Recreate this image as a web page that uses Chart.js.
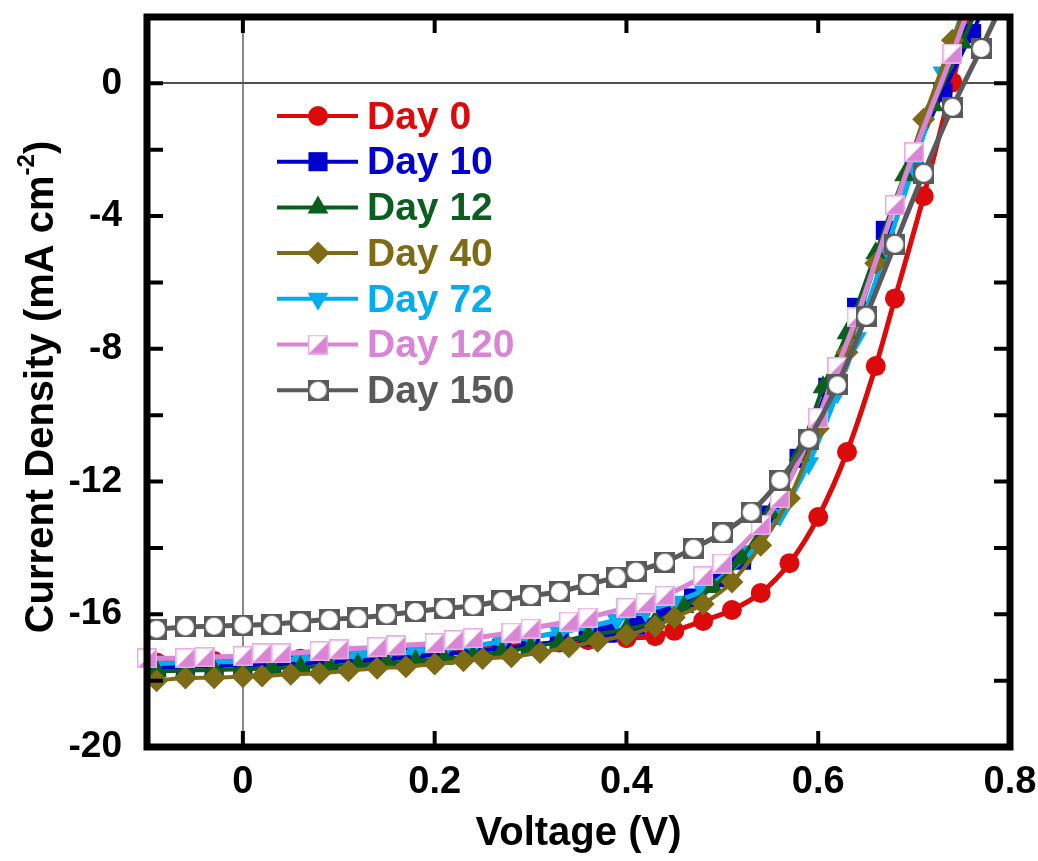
<!DOCTYPE html>
<html>
<head>
<meta charset="utf-8">
<script src="https://cdn.jsdelivr.net/npm/chart.js"></script>
<style>
  html, body { margin: 0; padding: 0; background: #fff; }
  #wrap { width: 1038px; height: 861px; }
</style>
</head>
<body>
<div id="wrap"><canvas id="jv" width="1038" height="861"></canvas></div>
<script>
// J-V curves, voltage (V) vs current density (mA cm-2)
var day0V = [-0.09,-0.06,-0.03,0,0.03,0.06,0.09,0.12,0.15,0.18,0.21,0.24,0.27,0.30,0.33,0.36,0.40,0.43,0.45,0.48,0.51,0.54,0.57,0.60,0.63,0.66,0.68,0.71,0.74,0.77];
var day0J = [-17.45,-17.43,-17.41,-17.40,-17.37,-17.34,-17.30,-17.27,-17.22,-17.17,-17.11,-17.05,-16.98,-16.92,-16.85,-16.78,-16.72,-16.66,-16.50,-16.20,-15.87,-15.36,-14.46,-13.07,-11.11,-8.52,-6.48,-3.40,0.03,3.5];

var day10V = [-0.09,-0.06,-0.03,0,0.03,0.06,0.09,0.12,0.15,0.18,0.21,0.24,0.27,0.30,0.33,0.36,0.38,0.41,0.44,0.47,0.50,0.52,0.55,0.58,0.61,0.64,0.67,0.70,0.73,0.76,0.79];
var day10J = [-17.60,-17.58,-17.56,-17.54,-17.51,-17.48,-17.44,-17.40,-17.35,-17.28,-17.20,-17.12,-17.03,-16.93,-16.82,-16.68,-16.57,-16.33,-15.96,-15.51,-14.90,-14.37,-13.01,-11.30,-9.16,-6.75,-4.43,-2.20,-0.27,1.5,3.3];

var day12V = [-0.09,-0.06,-0.03,0,0.03,0.06,0.09,0.12,0.15,0.18,0.21,0.24,0.27,0.30,0.33,0.36,0.40,0.43,0.46,0.49,0.52,0.55,0.58,0.605,0.63,0.66,0.69,0.72,0.75,0.78];
var day12J = [-17.72,-17.70,-17.68,-17.66,-17.63,-17.60,-17.56,-17.52,-17.47,-17.41,-17.34,-17.26,-17.14,-17.00,-16.84,-16.64,-16.45,-16.22,-15.78,-15.18,-14.31,-12.95,-11.2,-9.16,-7.53,-5.12,-2.77,-0.66,1.23,3.2];

var day40V = [-0.09,-0.06,-0.03,0,0.02,0.05,0.08,0.11,0.14,0.17,0.20,0.23,0.25,0.28,0.31,0.34,0.37,0.40,0.43,0.45,0.48,0.51,0.54,0.57,0.60,0.63,0.66,0.71,0.74,0.77];
var day40J = [-18.00,-17.92,-17.91,-17.88,-17.86,-17.81,-17.78,-17.70,-17.63,-17.58,-17.50,-17.40,-17.33,-17.28,-17.15,-16.98,-16.81,-16.63,-16.36,-16.10,-15.69,-15.03,-13.92,-12.50,-10.4,-8.10,-5.42,-1.08,1.30,3.5];

var day72V = [-0.09,-0.06,-0.03,0,0.03,0.06,0.09,0.12,0.15,0.18,0.21,0.24,0.27,0.30,0.33,0.36,0.39,0.42,0.45,0.48,0.53,0.56,0.59,0.62,0.64,0.67,0.70,0.73,0.76];
var day72J = [-17.48,-17.46,-17.44,-17.42,-17.39,-17.35,-17.31,-17.26,-17.20,-17.13,-17.05,-16.95,-16.83,-16.70,-16.55,-16.38,-16.17,-15.90,-15.62,-15.27,-14.10,-13.01,-11.45,-9.31,-7.68,-5.1,-2.45,0.33,3.0];

var day120V = [-0.10,-0.06,-0.04,0,0.02,0.04,0.08,0.10,0.14,0.16,0.20,0.22,0.24,0.28,0.30,0.34,0.36,0.40,0.42,0.44,0.48,0.50,0.54,0.56,0.60,0.62,0.64,0.68,0.70,0.74,0.78];
var day120J = [-17.33,-17.32,-17.29,-17.26,-17.18,-17.18,-17.11,-17.06,-16.99,-16.94,-16.87,-16.78,-16.72,-16.55,-16.43,-16.22,-16.10,-15.81,-15.66,-15.44,-14.86,-14.47,-13.31,-12.50,-10.08,-8.55,-7.05,-3.67,-2.08,0.90,4.1];

var day150V = [-0.09,-0.06,-0.03,0,0.03,0.06,0.09,0.12,0.15,0.18,0.21,0.24,0.27,0.30,0.33,0.36,0.39,0.41,0.44,0.47,0.50,0.53,0.56,0.59,0.62,0.65,0.68,0.71,0.74,0.77,0.80];
var day150J = [-16.45,-16.38,-16.36,-16.33,-16.30,-16.23,-16.15,-16.11,-16.02,-15.92,-15.82,-15.75,-15.59,-15.44,-15.32,-15.10,-14.88,-14.70,-14.43,-14.01,-13.55,-12.92,-11.96,-10.72,-9.09,-7.02,-4.85,-2.71,-0.72,1.05,2.9];

var seriesNames = ['Day 0', 'Day 10', 'Day 12', 'Day 40', 'Day 72', 'Day 120', 'Day 150'];
var xTickValues = [0, 0.2, 0.4, 0.6, 0.8];
var xTickLabels = ['0', '0.2', '0.4', '0.6', '0.8'];
var yTickValues = [-20, -16, -12, -8, -4, 0];
var yTickLabels = ['-20', '-16', '-12', '-8', '-4', '0'];
var yMarkValues = [-18, -16, -14, -12, -10, -8, -6, -4, -2, 0];
var xMarkValues = [0, 0.2, 0.4, 0.6];

var FONT = '"Liberation Sans", Arial, Helvetica, sans-serif';

function zip(xs, ys) {
    return xs.map(function(x, i) { return { x: x, y: ys[i] }; });
}

// square split on the diagonal: white upper-left, pink lower-right
function halfSquare(size, color) {
    var c = document.createElement('canvas');
    c.width = size; c.height = size;
    var g = c.getContext('2d');
    g.fillStyle = '#ffffff';
    g.fillRect(0, 0, size, size);
    g.fillStyle = color;
    g.beginPath();
    g.moveTo(size, 0); g.lineTo(size, size); g.lineTo(0, size); g.closePath();
    g.fill();
    g.strokeStyle = '#e8aee5';
    g.lineWidth = 1.5;
    g.strokeRect(0.75, 0.75, size - 1.5, size - 1.5);
    return c;
}

// grey square with a white disc inside
function ringSquare(size, color) {
    var c = document.createElement('canvas');
    c.width = size; c.height = size;
    var g = c.getContext('2d');
    g.fillStyle = color;
    g.fillRect(0, 0, size, size);
    g.fillStyle = '#ffffff';
    g.beginPath();
    g.arc(size / 2, size / 2, size / 2 - 2, 0, Math.PI * 2);
    g.fill();
    return c;
}

var colors = ['#dc0a0a', '#0000cc', '#0a5f1e', '#7d6b16', '#00adef', '#da84d6', '#5a5a5a'];
var styles = [
    { pointStyle: 'circle', radius: 10, rotation: 0, width: 5 },
    { pointStyle: 'rect', radius: 13.5, rotation: 0, width: 4 },
    { pointStyle: 'triangle', radius: 12, rotation: 0, width: 4 },
    { pointStyle: 'rectRot', radius: 11.5, rotation: 0, width: 4 },
    { pointStyle: 'triangle', radius: 12, rotation: 180, width: 5 },
    { pointStyle: halfSquare(20, colors[5]), radius: 10, rotation: 0, width: 5 },
    { pointStyle: ringSquare(21, colors[6]), radius: 10, rotation: 0, width: 5 }
];
var allV = [day0V, day10V, day12V, day40V, day72V, day120V, day150V];
var allJ = [day0J, day10J, day12J, day40J, day72J, day120J, day150J];
// stacking: Day 0 at the bottom, Day 150 on top
var drawOrder = [7, 6, 4, 3, 5, 2, 1];

var datasets = seriesNames.map(function(name, i) {
    return {
        label: name,
        data: zip(allV[i], allJ[i]),
        borderColor: colors[i],
        backgroundColor: colors[i],
        borderWidth: styles[i].width,
        pointStyle: styles[i].pointStyle,
        pointRadius: styles[i].radius,
        pointRotation: styles[i].rotation,
        pointBackgroundColor: colors[i],
        pointBorderWidth: 0,
        pointHoverRadius: styles[i].radius,
        cubicInterpolationMode: 'monotone',
        order: drawOrder[i],
        clip: { left: 15, top: 0, right: 0, bottom: 0 }
    };
});

var framePlugin = {
    id: 'frame',
    afterDraw: function(chart) {
        var ctx = chart.ctx, a = chart.chartArea;
        var xs = chart.scales.x, ys = chart.scales.y;
        ctx.save();
        ctx.strokeStyle = '#000';
        ctx.lineWidth = 4;
        yMarkValues.forEach(function(v) {
            var y = ys.getPixelForValue(v);
            ctx.beginPath();
            ctx.moveTo(a.left, y); ctx.lineTo(a.left + 16, y);
            ctx.moveTo(a.right, y); ctx.lineTo(a.right - 16, y);
            ctx.stroke();
        });
        xMarkValues.forEach(function(v) {
            var x = xs.getPixelForValue(v);
            ctx.beginPath();
            ctx.moveTo(x, a.bottom); ctx.lineTo(x, a.bottom - 16);
            ctx.moveTo(x, a.top); ctx.lineTo(x, a.top + 16);
            ctx.stroke();
        });
        ctx.lineWidth = 7;
        ctx.strokeRect(a.left, a.top, a.right - a.left, a.bottom - a.top);

        // y axis title with superscript
        ctx.translate(42, (a.top + a.bottom) / 2 + 5);
        ctx.rotate(-Math.PI / 2);
        ctx.fillStyle = '#000';
        ctx.textBaseline = 'middle';
        var main = 'Current Density (mA cm', sup = '-2', tail = ')';
        ctx.font = 'bold 40px ' + FONT;
        var w1 = ctx.measureText(main).width, w3 = ctx.measureText(tail).width;
        ctx.font = 'bold 24px ' + FONT;
        var w2 = ctx.measureText(sup).width;
        var x0 = -(w1 + w2 + w3) / 2;
        ctx.font = 'bold 40px ' + FONT;
        ctx.textAlign = 'left';
        ctx.fillText(main, x0, 0);
        ctx.font = 'bold 24px ' + FONT;
        ctx.fillText(sup, x0 + w1, -15);
        ctx.font = 'bold 40px ' + FONT;
        ctx.fillText(tail, x0 + w1 + w2, 0);
        ctx.restore();
    }
};

// legend: line + marker + coloured label, inside the plot
var legendPlugin = {
    id: 'jvLegend',
    afterDatasetsDraw: function(chart) {
        var ctx = chart.ctx;
        var x1 = 277, x2 = 358, xm = 318, xt = 367, y0 = 116, dy = 45.7;
        ctx.save();
        seriesNames.forEach(function(name, i) {
            var y = y0 + i * dy;
            ctx.strokeStyle = colors[i];
            ctx.lineWidth = 4;
            ctx.beginPath();
            ctx.moveTo(x1, y); ctx.lineTo(x2, y);
            ctx.stroke();
            ctx.fillStyle = colors[i];
            Chart.helpers.drawPoint(ctx, {
                pointStyle: styles[i].pointStyle,
                radius: styles[i].radius,
                rotation: styles[i].rotation,
                borderWidth: 0
            }, xm, y);
            ctx.font = 'bold 39px ' + FONT;
            ctx.textBaseline = 'middle';
            ctx.textAlign = 'left';
            ctx.fillText(name, xt, y + 2);
        });
        ctx.restore();
    }
};

new Chart(document.getElementById('jv'), {
    type: 'line',
    data: { datasets: datasets },
    options: {
        responsive: false,
        animation: false,
        devicePixelRatio: 1,
        layout: { padding: { top: 17, right: 28, left: 0, bottom: 0 } },
        plugins: {
            legend: { display: false },
            tooltip: { enabled: false }
        },
        scales: {
            x: {
                type: 'linear',
                min: -0.1,
                max: 0.8,
                afterBuildTicks: function(s) { s.ticks = xTickValues.map(function(v) { return { value: v }; }); },
                afterFit: function(s) { s.height = 114; s.paddingLeft = 0; s.paddingRight = 0; },
                border: { display: false },
                grid: {
                    drawTicks: false,
                    lineWidth: 2,
                    color: function(c) { return c.tick && c.tick.value === 0 ? '#8a8a8a' : 'rgba(0,0,0,0)'; }
                },
                ticks: {
                    padding: 13,
                    color: '#000',
                    maxRotation: 0,
                    font: { family: FONT, size: 38, weight: 'bold' },
                    callback: function(v) { var k = xTickValues.indexOf(v); return k >= 0 ? xTickLabels[k] : ''; }
                },
                title: {
                    display: true,
                    text: 'Voltage (V)',
                    color: '#000',
                    padding: { top: 0, bottom: 3 },
                    font: { family: FONT, size: 40, weight: 'bold' }
                }
            },
            y: {
                type: 'linear',
                min: -20,
                max: 2,
                afterBuildTicks: function(s) { s.ticks = yTickValues.map(function(v) { return { value: v }; }); },
                afterFit: function(s) { s.width = 147; s.paddingTop = 0; s.paddingBottom = 0; },
                border: { display: false },
                grid: {
                    drawTicks: false,
                    lineWidth: 2,
                    color: function(c) { return c.tick && c.tick.value === 0 ? '#505050' : 'rgba(0,0,0,0)'; }
                },
                ticks: {
                    padding: 25,
                    color: '#000',
                    font: { family: FONT, size: 37, weight: 'bold' },
                    callback: function(v) { var k = yTickValues.indexOf(v); return k >= 0 ? yTickLabels[k] : ''; }
                }
            }
        }
    },
    plugins: [framePlugin, legendPlugin]
});
</script>
</body>
</html>
